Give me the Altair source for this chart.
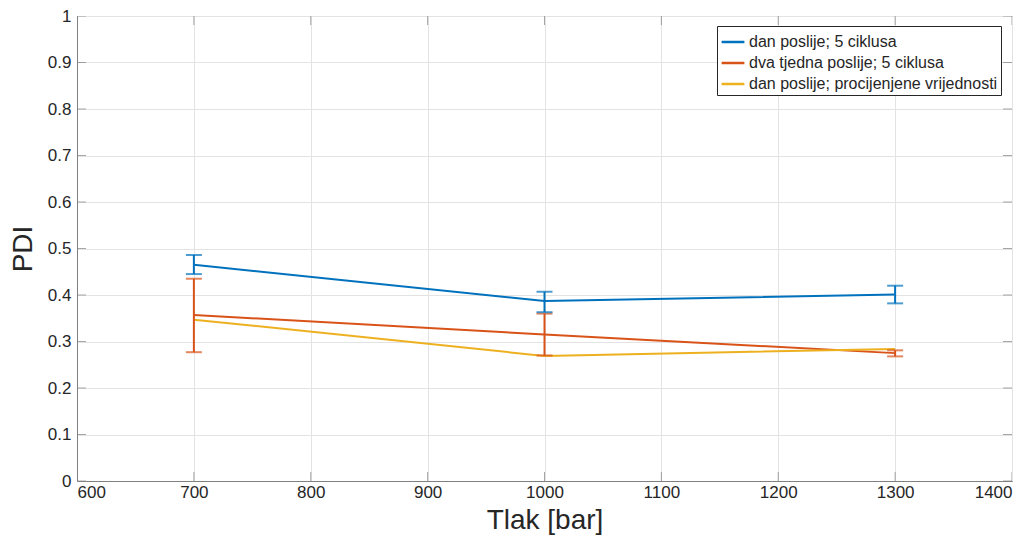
import altair as alt
import pandas as pd

pressure = [700, 1000, 1300]
series = ["dan poslije; 5 ciklusa", "dva tjedna poslije; 5 ciklusa", "dan poslije; procijenjene vrijednosti"]
colors = ["#0072BD", "#D95319", "#EDB120"]

blue = [0.465, 0.387, 0.401]
blue_hi = [0.486, 0.407, 0.420]
blue_lo = [0.445, 0.363, 0.382]

orange = [0.357, 0.315, 0.275]
orange_hi = [0.435, 0.360, 0.281]
orange_lo = [0.277, 0.270, 0.268]

yellow = [0.347, 0.269, 0.284]

x_ticks = [600, 700, 800, 900, 1000, 1100, 1200, 1300, 1400]
y_ticks = [0, 0.1, 0.2, 0.3, 0.4, 0.5, 0.6, 0.7, 0.8, 0.9, 1]

rows = []
for s, vals in zip(series, [blue, orange, yellow]):
    for p, v in zip(pressure, vals):
        rows.append({"p": p, "v": v, "s": s})
df = pd.DataFrame(rows)

err_rows = []
for s, hi, lo in [(series[0], blue_hi, blue_lo), (series[1], orange_hi, orange_lo)]:
    for p, h, l in zip(pressure, hi, lo):
        err_rows.append({"p": p, "hi": h, "lo": l, "s": s})
edf = pd.DataFrame(err_rows)

xs = alt.Scale(domain=[600, 1400], nice=False)
ys = alt.Scale(domain=[0, 1], nice=False)
cs = alt.Scale(domain=series, range=colors)

common = dict(titleFontSize=28, titleFontWeight="normal", titleColor="#262626",
              labelFontSize=17, labelColor="#262626", labelFont="Liberation Sans",
              titleFont="Liberation Sans", grid=True, gridColor="#e3e3e3",
              domainColor="#808080", ticks=False)
xaxis = alt.Axis(values=x_ticks, title="Tlak [bar]", labelPadding=3, titlePadding=6, format="d", **common)
yaxis = alt.Axis(values=y_ticks, title="PDI", labelPadding=6, titlePadding=10, format="~g", **common)

lines = alt.Chart(df).mark_line(strokeWidth=2).encode(
    x=alt.X("p:Q", scale=xs, axis=xaxis),
    y=alt.Y("v:Q", scale=ys, axis=yaxis),
    color=alt.Color("s:N", scale=cs, sort=series, legend=alt.Legend(
        title=None, orient="none", legendX=640, legendY=10, symbolType="stroke",
        symbolSize=520, symbolStrokeWidth=2.5, labelFontSize=16, labelFont="Liberation Sans",
        labelColor="#262626", strokeColor="#262626", fillColor="white", padding=3,
        rowPadding=0, labelOffset=3, labelLimit=400)),
)

bars = alt.Chart(edf).mark_rule(strokeWidth=2).encode(
    x="p:Q", y="lo:Q", y2="hi:Q", color=alt.Color("s:N", scale=cs, legend=None)
)
caps_hi = alt.Chart(edf).mark_tick(orient="horizontal", size=16, thickness=2).encode(
    x="p:Q", y="hi:Q", color=alt.Color("s:N", scale=cs, legend=None)
)
caps_lo = alt.Chart(edf).mark_tick(orient="horizontal", size=16, thickness=2).encode(
    x="p:Q", y="lo:Q", color=alt.Color("s:N", scale=cs, legend=None)
)

ytdf = pd.DataFrame({"t": y_ticks})
xtdf = pd.DataFrame({"t": x_ticks})
tick_style = dict(size=18, thickness=1, color="#808080", clip=True)
yt_left = alt.Chart(ytdf).mark_tick(orient="horizontal", **tick_style).encode(
    y=alt.Y("t:Q", scale=ys), x=alt.datum(600, scale=xs))
yt_right = alt.Chart(ytdf).mark_tick(orient="horizontal", **tick_style).encode(
    y=alt.Y("t:Q", scale=ys), x=alt.datum(1400, scale=xs))
xt_bot = alt.Chart(xtdf).mark_tick(orient="vertical", **tick_style).encode(
    x=alt.X("t:Q", scale=xs), y=alt.datum(0, scale=ys))
xt_top = alt.Chart(xtdf).mark_tick(orient="vertical", **tick_style).encode(
    x=alt.X("t:Q", scale=xs), y=alt.datum(1, scale=ys))

chart = alt.layer(yt_left, yt_right, xt_bot, xt_top, lines, bars, caps_hi, caps_lo).properties(
    width=935, height=465,
    autosize=alt.AutoSizeParams(type="none"),
    padding={"left": 69, "top": 8, "right": 10, "bottom": 55},
    background="white",
).configure_view(stroke="#404040", strokeWidth=1)

chart.save("out.html", embed_options={"renderer": "svg", "actions": False})
